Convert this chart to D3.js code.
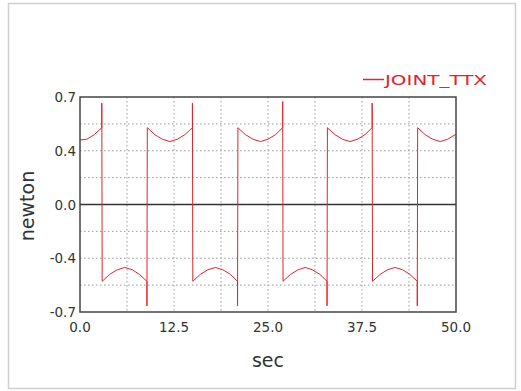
<!DOCTYPE html>
<html>
<head>
<meta charset="utf-8">
<script src="https://cdn.jsdelivr.net/npm/d3@7"></script>
<style>
  html, body { margin: 0; padding: 0; background: #fff; }
  svg { display: block; }
  text { font-family: "DejaVu Sans", Verdana, sans-serif; }
</style>
</head>
<body>
<svg id="chart" width="521" height="391"></svg>
<script>
// ---- data ----
const time = [
  0, 0.9, 1.9, 2.9, 2.9, 2.95,
  3.95, 4.95, 5.95, 6.95, 7.9, 8.9, 8.9, 8.95,
  9.95, 10.95, 11.95, 12.95, 13.95, 14.95, 14.95, 15.0,
  16.0, 17.0, 18.0, 19.0, 20.0, 20.95, 20.95, 21.0,
  22.0, 23.0, 24.0, 25.0, 26.0, 26.95, 26.95, 27.0,
  28.0, 29.0, 29.95, 30.9, 31.9, 32.85, 32.85, 32.9,
  33.9, 34.9, 35.9, 36.9, 37.9, 38.85, 38.85, 38.9,
  39.9, 40.9, 41.9, 42.9, 43.85, 44.85, 44.85, 44.9,
  45.9, 46.9, 47.9, 48.9, 49.9, 50.0
];
const jointTTX = [
  0.42, 0.425, 0.455, 0.50, 0.66, -0.50,
  -0.455, -0.425, -0.41, -0.425, -0.455, -0.50, -0.66, 0.50,
  0.455, 0.425, 0.41, 0.425, 0.455, 0.50, 0.66, -0.50,
  -0.455, -0.425, -0.41, -0.425, -0.455, -0.50, -0.66, 0.50,
  0.455, 0.425, 0.41, 0.425, 0.455, 0.50, 0.67, -0.50,
  -0.455, -0.425, -0.41, -0.425, -0.455, -0.50, -0.66, 0.50,
  0.455, 0.425, 0.41, 0.425, 0.455, 0.50, 0.66, -0.50,
  -0.455, -0.425, -0.41, -0.425, -0.455, -0.50, -0.66, 0.50,
  0.455, 0.425, 0.41, 0.425, 0.455, 0.46
];
const xTickValues = [0, 12.5, 25, 37.5, 50];
const xTickLabels = ["0.0", "12.5", "25.0", "37.5", "50.0"];
const yTickValues = [0.7, 0.35, 0, -0.35, -0.7];
const yTickLabels = ["0.7", "0.4", "0.0", "-0.4", "-0.7"];
const xGrid = [6.25, 12.5, 18.75, 25, 31.25, 37.5, 43.75];
const yGrid = [0.525, 0.35, 0.175, -0.175, -0.35, -0.525];
const seriesName = "JOINT_TTX";
const xTitle = "sec";
const yTitle = "newton";

// ---- layout ----
const svg = d3.select("#chart");
const plot = { left: 80, right: 456, top: 97, bottom: 312 };
const red = "#e3242b";

const x = d3.scaleLinear().domain([0, 50]).range([plot.left, plot.right]);
const y = d3.scaleLinear().domain([-0.7, 0.7]).range([plot.bottom, plot.top]);

// outer frame
svg.append("rect")
  .attr("x", 8.5).attr("y", 3.5).attr("width", 507).attr("height", 385)
  .attr("fill", "#fff").attr("stroke", "#cfcfcf").attr("stroke-width", 1.5);

// grid
const g = svg.append("g");
g.selectAll(".vg").data(xGrid).join("line")
  .attr("x1", d => x(d)).attr("x2", d => x(d))
  .attr("y1", plot.top).attr("y2", plot.bottom)
  .attr("stroke", "#9a9a9a").attr("stroke-width", 1).attr("stroke-dasharray", "1.5,2.5");
g.selectAll(".hg").data(yGrid).join("line")
  .attr("x1", plot.left).attr("x2", plot.right)
  .attr("y1", d => y(d)).attr("y2", d => y(d))
  .attr("stroke", "#9a9a9a").attr("stroke-width", 1).attr("stroke-dasharray", "1.5,2.5");

// zero line
g.append("line")
  .attr("x1", plot.left).attr("x2", plot.right)
  .attr("y1", y(0)).attr("y2", y(0))
  .attr("stroke", "#333").attr("stroke-width", 1.5);

// series
const pts = time.map((t, i) => [t, jointTTX[i]]);
g.append("path")
  .datum(pts)
  .attr("fill", "none")
  .attr("stroke", red)
  .attr("stroke-width", 1)
  .attr("d", d3.line().x(d => x(d[0])).y(d => y(d[1])));

// plot frame
g.append("rect")
  .attr("x", plot.left).attr("y", plot.top)
  .attr("width", plot.right - plot.left).attr("height", plot.bottom - plot.top)
  .attr("fill", "none").attr("stroke", "#444").attr("stroke-width", 1.5);

// y tick labels
svg.selectAll(".yt").data(yTickValues).join("text")
  .attr("x", 76).attr("y", d => y(d) + 5)
  .attr("text-anchor", "end")
  .attr("font-size", 13.5).attr("fill", "#333")
  .text((d, i) => yTickLabels[i]);

// x tick labels
svg.selectAll(".xt").data(xTickValues).join("text")
  .attr("x", d => x(d)).attr("y", 332)
  .attr("text-anchor", "middle")
  .attr("font-size", 13.5).attr("fill", "#333")
  .text((d, i) => xTickLabels[i]);

// axis titles
svg.append("text")
  .attr("x", 268).attr("y", 367)
  .attr("text-anchor", "middle")
  .attr("font-size", 19).attr("fill", "#333")
  .text(xTitle);
svg.append("text")
  .attr("transform", "translate(34,206) rotate(-90)")
  .attr("text-anchor", "middle")
  .attr("font-size", 19).attr("fill", "#333")
  .text(yTitle);

// legend
svg.append("line")
  .attr("x1", 363).attr("x2", 384).attr("y1", 79.5).attr("y2", 79.5)
  .attr("stroke", red).attr("stroke-width", 1.5);
svg.append("text")
  .attr("x", 385).attr("y", 84.5)
  .attr("font-size", 14).attr("fill", red)
  .attr("textLength", 102).attr("lengthAdjust", "spacingAndGlyphs")
  .text(seriesName);
</script>
</body>
</html>
